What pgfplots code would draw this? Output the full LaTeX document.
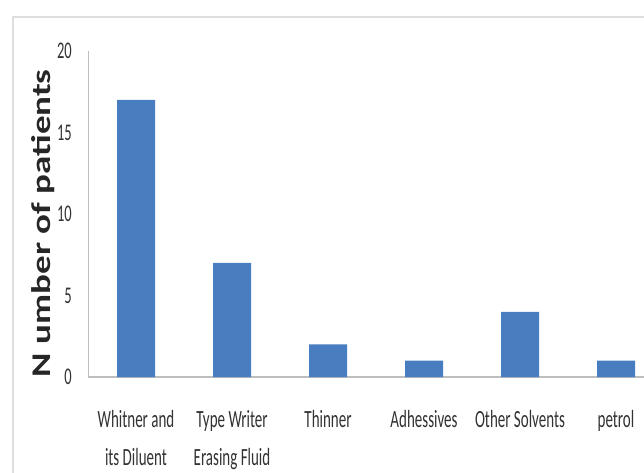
\documentclass[border=0pt]{standalone}
\usepackage{pgfplots}
\pgfplotsset{compat=1.18}
\usepackage{fontspec}
\setmainfont{Carlito}

% text in this chart is drawn tall and narrow
\newcommand\tall[1]{\scalebox{1}[1.65]{#1}}
\newcommand\cat[1]{\tall{\begin{tabular}{@{}c@{}}#1\end{tabular}}}

\definecolor{barblue}{RGB}{72,125,192}
\definecolor{axisgray}{RGB}{190,190,190}
\definecolor{framegray}{RGB}{222,222,222}
\definecolor{labelgray}{RGB}{50,50,50}

\begin{document}
\begin{tikzpicture}[x=1pt,y=1pt]
\useasboundingbox (0,0) rectangle (644,472);
\clip (0,0) rectangle (644,472);
% chart area frame
\draw[line width=1.6pt, framegray] (13,-5) -- (13,455) -- (650,455);
\begin{axis}[
  at={(88pt,95pt)}, anchor=south west,
  scale only axis, width=576pt, height=326pt,
  xmin=-0.5, xmax=5.5, ymin=0, ymax=20,
  axis x line*=bottom, axis y line*=left,
  x axis line style={draw=axisgray, line width=2pt, -},
  y axis line style={draw=axisgray, line width=1pt, -},
  ytick={0,5,10,15,20}, xtick={0,1,2,3,4,5},
  major tick length=0pt,
  /pgf/number format/assume math mode=true,
  yticklabel={\tall{\pgfmathprintnumber{\tick}}},
  yticklabel style={font=\fontsize{14.5}{14.5}\selectfont, text=labelgray,
    inner sep=0pt, xshift=-16pt},
  xticklabels={
    {\cat{Whitner and\\its Diluent}},
    {\cat{Type Writer\\Erasing Fluid}},
    {\cat{Thinner}},
    {\cat{Adhessives}},
    {\cat{Other Solvents}},
    {\cat{petrol}}},
  xticklabel style={font=\fontsize{15}{23}\selectfont, text=labelgray,
    anchor=north, inner sep=0pt, yshift=-24pt},
  ylabel={\scalebox{1.37}[1]{N umber of patients}},
  every axis y label/.style={at={(rel axis cs:0,0.472)}, xshift=-45pt,
    rotate=90, anchor=center, inner sep=0pt,
    font=\fontsize{27}{27}\selectfont\bfseries, text=black!85},
  ybar, bar width=38pt,
]
\addplot[fill=barblue, draw=none] coordinates {
  (0,17) (1,7) (2,2) (3,1) (4,4) (5,1)
};
\end{axis}
\end{tikzpicture}
\end{document}
